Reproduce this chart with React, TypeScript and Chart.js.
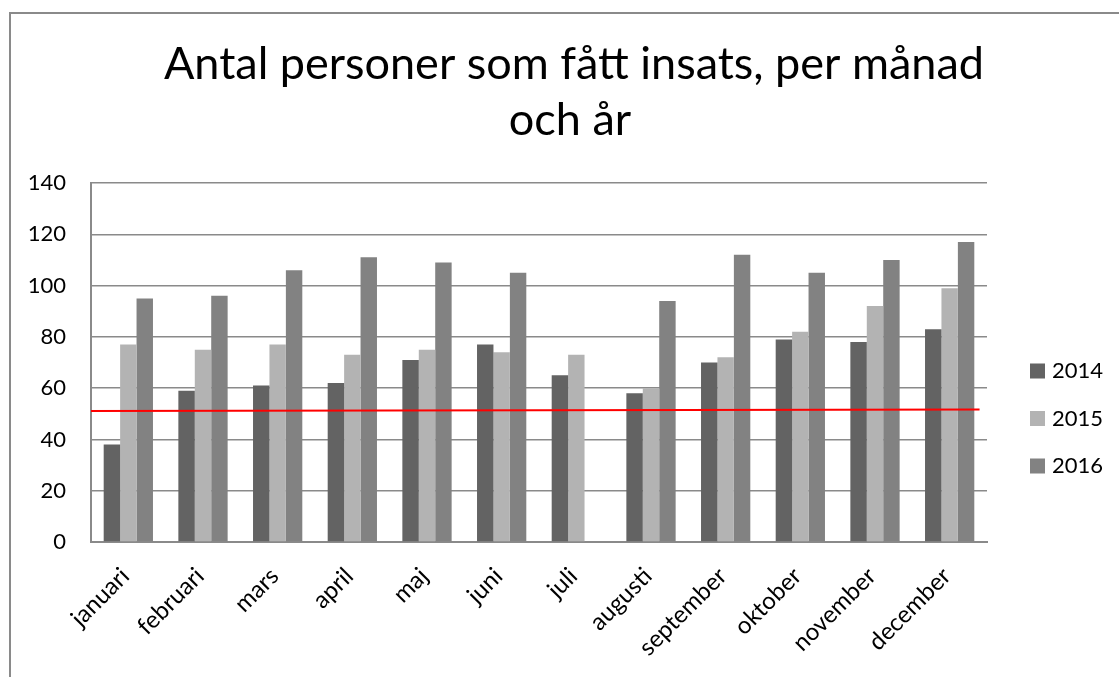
import React, { useEffect, useRef } from "react";
import { Chart, registerables } from "chart.js";

Chart.register(...registerables);

const titleLines = ["Antal personer som fått insats, per månad", "och år"];
const months = [
  "januari", "februari", "mars", "april", "maj", "juni",
  "juli", "augusti", "september", "oktober", "november", "december",
];
const seriesNames = ["2014", "2015", "2016"];
const values2014 = [38, 59, 61, 62, 71, 77, 65, 58, 70, 79, 78, 83];
const values2015 = [77, 75, 77, 73, 75, 74, 73, 60, 72, 82, 92, 99];
const values2016 = [95, 96, 106, 111, 109, 105, null, 94, 112, 105, 110, 117];
const seriesColors = ["#636363", "#b3b3b3", "#828282"];
// red reference line: start/end (position in month-widths from the axis start, value)
const refLineX = [0, 11.9];
const refLineY = [51.1, 51.7];
const yTicks = { min: 0, max: 140, step: 20 };

const FONT = "Lato, 'Open Sans', sans-serif";

const framePlugin = {
  id: "frameAndTexts",
  beforeDraw(chart: any) {
    const { ctx, width, height } = chart;
    ctx.save();
    ctx.fillStyle = "#ffffff";
    ctx.fillRect(0, 0, width, height);
    ctx.strokeStyle = "#8a8a8a";
    ctx.lineWidth = 2;
    ctx.beginPath();
    ctx.moveTo(10, height + 5);
    ctx.lineTo(10, 13);
    ctx.lineTo(width + 5, 13);
    ctx.stroke();
    ctx.restore();
  },
  afterDatasetsDraw(chart: any) {
    const { ctx } = chart;
    const xs = chart.scales.x;
    const ys = chart.scales.y;
    ctx.save();
    ctx.strokeStyle = "#ff0000";
    ctx.lineWidth = 2;
    ctx.beginPath();
    refLineX.forEach((xv, i) => {
      const px = xs.getPixelForDecimal(xv / months.length);
      const py = ys.getPixelForValue(refLineY[i]);
      if (i === 0) ctx.moveTo(px, py);
      else ctx.lineTo(px, py);
    });
    ctx.stroke();
    ctx.restore();
  },
  afterDraw(chart: any) {
    const { ctx } = chart;
    ctx.save();
    // title
    ctx.fillStyle = "#000000";
    ctx.font = `45px ${FONT}`;
    ctx.textAlign = "center";
    ctx.textBaseline = "alphabetic";
    ctx.fillText(titleLines[0], 574, 79);
    ctx.fillText(titleLines[1], 570, 135);
    // legend
    ctx.font = `22px ${FONT}`;
    ctx.textAlign = "left";
    ctx.textBaseline = "middle";
    chart.data.datasets.forEach((d: any, i: number) => {
      const cy = 371 + i * 47.5;
      ctx.fillStyle = d.backgroundColor;
      ctx.fillRect(1030, cy - 7.5, 15, 15);
      ctx.fillStyle = "#000000";
      ctx.fillText(d.label, 1052, cy);
    });
    ctx.restore();
  },
};

export default function App() {
  const canvasRef = useRef<HTMLCanvasElement | null>(null);

  useEffect(() => {
    if (!canvasRef.current) return;
    const chart = new Chart(canvasRef.current, {
      type: "bar",
      data: {
        labels: months,
        datasets: [values2014, values2015, values2016].map((vals, i) => ({
          label: seriesNames[i],
          data: vals,
          backgroundColor: seriesColors[i],
          borderWidth: 0,
          categoryPercentage: 0.66,
          barPercentage: 1,
        })),
      },
      options: {
        animation: false,
        responsive: false,
        maintainAspectRatio: false,
        layout: { padding: { top: 183, right: 132, bottom: 0, left: 0 } },
        plugins: {
          legend: { display: false },
          title: { display: false },
          tooltip: { enabled: false },
        },
        scales: {
          x: {
            type: "category",
            offset: true,
            grid: { display: false, drawTicks: false },
            border: { display: true, color: "#8a8a8a", width: 2 },
            ticks: {
              font: { family: FONT, size: 24 },
              color: "#000000",
              minRotation: 45,
              maxRotation: 45,
              padding: 20,
              labelOffset: -3,
              autoSkip: false,
            },
            afterFit(scale: any) {
              scale.height = 135;
            },
          },
          y: {
            type: "linear",
            min: yTicks.min,
            max: yTicks.max,
            ticks: {
              stepSize: yTicks.step,
              font: { family: FONT, size: 22 },
              color: "#000000",
              padding: 25,
            },
            grid: { color: "#8a8a8a", lineWidth: 1.5, drawTicks: false },
            border: { display: true, color: "#8a8a8a", width: 2 },
            afterFit(scale: any) {
              scale.width = 91;
            },
          },
        },
      } as any,
      plugins: [framePlugin],
    });
    return () => chart.destroy();
  }, []);

  return (
    <div style={{ position: "absolute", left: 0, top: 0, width: 1119, height: 677 }}>
      <canvas ref={canvasRef} width={1119} height={677} style={{ display: "block" }} />
    </div>
  );
}
